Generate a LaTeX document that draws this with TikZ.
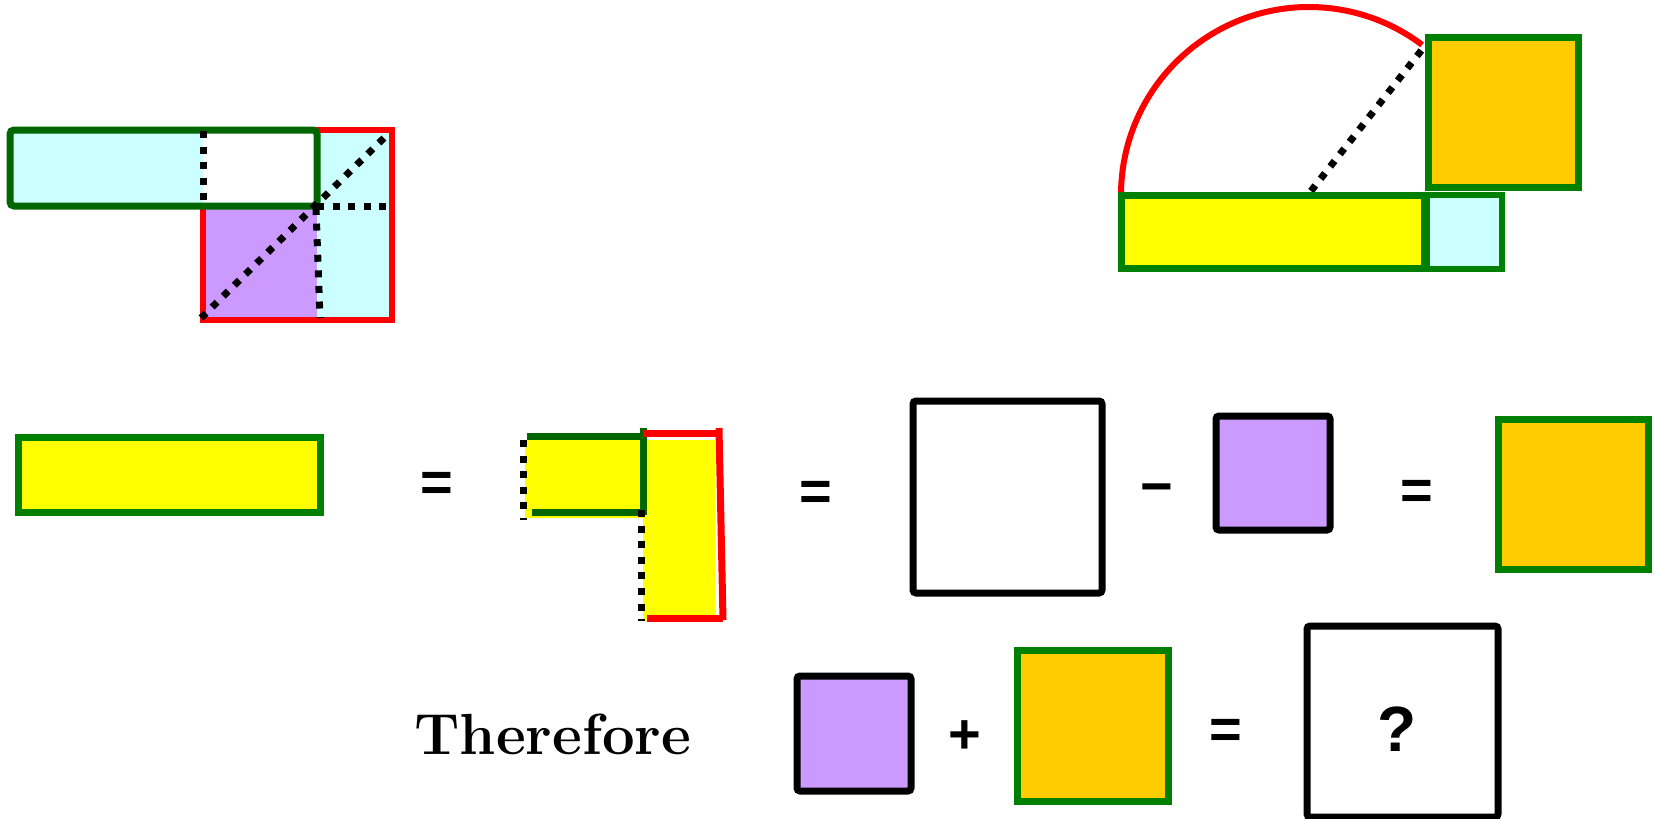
\documentclass[tikz,border=0pt]{standalone}
\usepackage{fontspec}
\usepackage{xcolor}
\usepackage{tikz}
\newfontfamily\signfont{Liberation Sans}
\definecolor{AQUA}{HTML}{CCFFFF}
\definecolor{LEAF}{HTML}{006600}
\definecolor{GRASS}{HTML}{008000}
\definecolor{LILAC}{HTML}{CC99FF}
\definecolor{LEMON}{HTML}{FFFF00}
\definecolor{AMBER}{HTML}{FFCC00}
\definecolor{SCARLET}{HTML}{FF0000}

\begin{document}
\begin{tikzpicture}[
  x=0.5pt, y=-0.5pt,
  thick edge/.style={line width=3.5pt},
  blackbox/.style={thick edge, draw=black, rounded corners=1.5pt},
  greenbox/.style={thick edge, draw=GRASS},
  redline/.style={thick edge, draw=SCARLET},
  dots/.style={line width=3.5pt, draw=black, dash pattern=on 3.5pt off 4.3pt},
  sign/.style={inner sep=0pt, font=\signfont\bfseries\fontsize{28}{30}\selectfont}
]
\useasboundingbox (0,0) rectangle (1655,819);

% top left: square of the sum, with the long strip laid across it
\fill[AQUA] (317,130) rectangle (392,320);
\fill[LILAC] (203,206) rectangle (317,320);
\draw[SCARLET, line width=3pt] (203,130) rectangle (392,320);
\fill[AQUA] (10,130) rectangle (203,206);
\fill[white] (203,130) rectangle (317,206);
\draw[thick edge, draw=LEAF, rounded corners=2pt] (10,130) rectangle (317,206);
\draw[dots] (203,131) -- (203,206);
\draw[dots] (201,318) -- (386,136);
\draw[dots] (317,206) -- (392,206);
\draw[dots] (316,208) -- (320,318);

% top right: half circle over the strip
\draw[SCARLET, line width=3pt] (1121,195) arc[start angle=180, end angle=307, radius=188];
\draw[dots] (1311,191) -- (1424,47);
\fill[LEMON] (1121,195) rectangle (1425,268);
\fill[AQUA] (1425,195) rectangle (1502,268);
\draw[GRASS, line width=2.6pt] (1425,195) rectangle (1502,269);
\draw[greenbox] (1121,195) rectangle (1425,268);
\draw[GRASS, line width=4.5pt] (1425,195) -- (1425,268);
\filldraw[greenbox, fill=AMBER] (1428,37) rectangle (1578,187);

% middle row
\filldraw[greenbox, fill=LEMON] (18,437) rectangle (320,512);
\node[sign] (eqA) at (437,487) {=};

\fill[LEMON] (525,440) -- (715,440) -- (715,621) -- (643,621) -- (643,518) -- (525,518) -- cycle;
\draw[thick edge, draw=LEAF] (527,436) -- (643,436);
\draw[thick edge, draw=LEAF] (643,428) -- (643,515);
\draw[thick edge, draw=LEAF] (532,512) -- (643,512);
\draw[redline] (643,433) -- (719,433);
\draw[redline] (719,428) -- (723,620);
\draw[redline] (647,618) -- (723,618);
\draw[dots] (523,440) -- (523,520);
\draw[dots] (641,510) -- (641,621);
\node[sign] (eqB) at (816,496) {=};

\draw[blackbox] (913,401) rectangle (1102,593);
\node[sign] (minus) at (1157,495) {−};
\filldraw[blackbox, fill=LILAC] (1216,416) rectangle (1330,530);
\node[sign] (eqC) at (1417,495) {=};
\filldraw[greenbox, fill=AMBER] (1498,419) rectangle (1648,569);

% bottom row
\node[anchor=base west, inner sep=0pt, font=\fontsize{29}{34}\selectfont\bfseries] (therefore) at (414,754) {Therefore};
\filldraw[blackbox, fill=LILAC] (797,676) rectangle (911,791);
\node[sign] (plus) at (965,737) {+};
\filldraw[greenbox, fill=AMBER] (1017,650) rectangle (1168,801);
\node[sign] (eqD) at (1226,734) {=};
\draw[blackbox] (1307,626) rectangle (1498,817);
\node[sign, font=\signfont\bfseries\fontsize{32}{34}\selectfont] (ask) at (1397,729) {?};

\end{tikzpicture}
\end{document}
